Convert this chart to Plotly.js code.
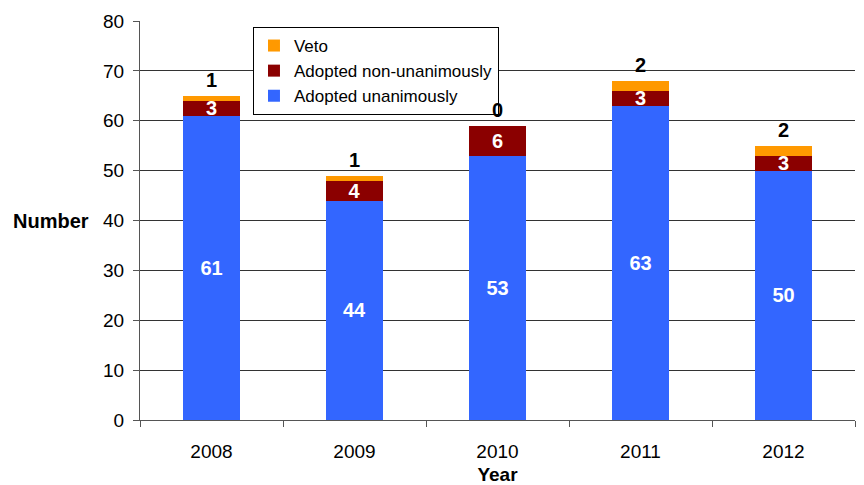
<!DOCTYPE html>
<html><head><meta charset="utf-8">
<script src="https://cdn.plot.ly/plotly-3.0.1.min.js"></script>
<style>body{margin:0;padding:0;background:#fff}#chart{width:864px;height:485px}</style>
</head><body><div id="chart"></div>
<script>
const years = ['2008','2009','2010','2011','2012'];
const unanimous = [61, 44, 53, 63, 50];
const nonUnanimous = [3, 4, 6, 3, 3];
const veto = [1, 1, 0, 2, 2];

const FONT = 'Liberation Sans, Arial, sans-serif';
const labelFont = {family: FONT, size: 20, color: '#ffffff', weight: 'bold'};

const traces = [
  {type:'bar', name:'Adopted unanimously', x:years, y:unanimous, marker:{color:'#3366FF'},
   text:unanimous.map(String), textposition:'inside', insidetextanchor:'middle', textangle:0,
   textfont:labelFont, constraintext:'none', hoverinfo:'skip'},
  {type:'bar', name:'Adopted non-unanimously', x:years, y:nonUnanimous, marker:{color:'#8B0000'},
   text:nonUnanimous.map(String), textposition:'inside', insidetextanchor:'middle', textangle:0,
   textfont:labelFont, constraintext:'none', hoverinfo:'skip'},
  {type:'bar', name:'Veto', x:years, y:veto, marker:{color:'#FF9900'},
   textposition:'none', hoverinfo:'skip'}
];

const annotations = years.map((yr, i) => ({
  x: i, y: unanimous[i] + nonUnanimous[i] + veto[i], xref:'x', yref:'y',
  text: String(veto[i]), showarrow:false, yanchor:'bottom', yshift:3,
  font:{family:FONT, size:20, color:'#000', weight:'bold'}
}));
annotations.push({xref:'paper', yref:'paper', x:-0.068, y:0.5, xanchor:'right', yanchor:'middle',
  text:'<b>Number</b>', showarrow:false, font:{family:FONT, size:20, color:'#000'}});

const layout = {
  width:864, height:485,
  margin:{l:140, r:9, t:21, b:65},
  paper_bgcolor:'#fff', plot_bgcolor:'#fff',
  barmode:'stack', bargap:0.6,
  font:{family:FONT, size:19, color:'#000'},
  showlegend:true,
  legend:{x:0.158, y:0.985, xanchor:'left', yanchor:'top', traceorder:'reversed',
    bordercolor:'#000', borderwidth:1, bgcolor:'#fff',
    font:{family:FONT, size:17, color:'#000'}, tracegroupgap:0, itemwidth:20},
  xaxis:{type:'category', range:[-0.5, 4.5], showline:true, linecolor:'#555', linewidth:1,
    ticks:'outside', tickson:'boundaries', ticklen:6, tickcolor:'#555',
    ticklabelstandoff:14, showgrid:false, tickangle:0,
    title:{text:'<b>Year</b>', font:{family:FONT, size:19}, standoff:6}},
  yaxis:{range:[0,80], dtick:10, showline:true, linecolor:'#555', linewidth:1,
    ticks:'outside', ticklen:6, tickcolor:'#555', ticklabelstandoff:5,
    showgrid:true, gridcolor:'#333', gridwidth:1, zeroline:false},
  annotations: annotations
};

Plotly.newPlot('chart', traces, layout, {staticPlot:true, displayModeBar:false});
</script></body></html>
